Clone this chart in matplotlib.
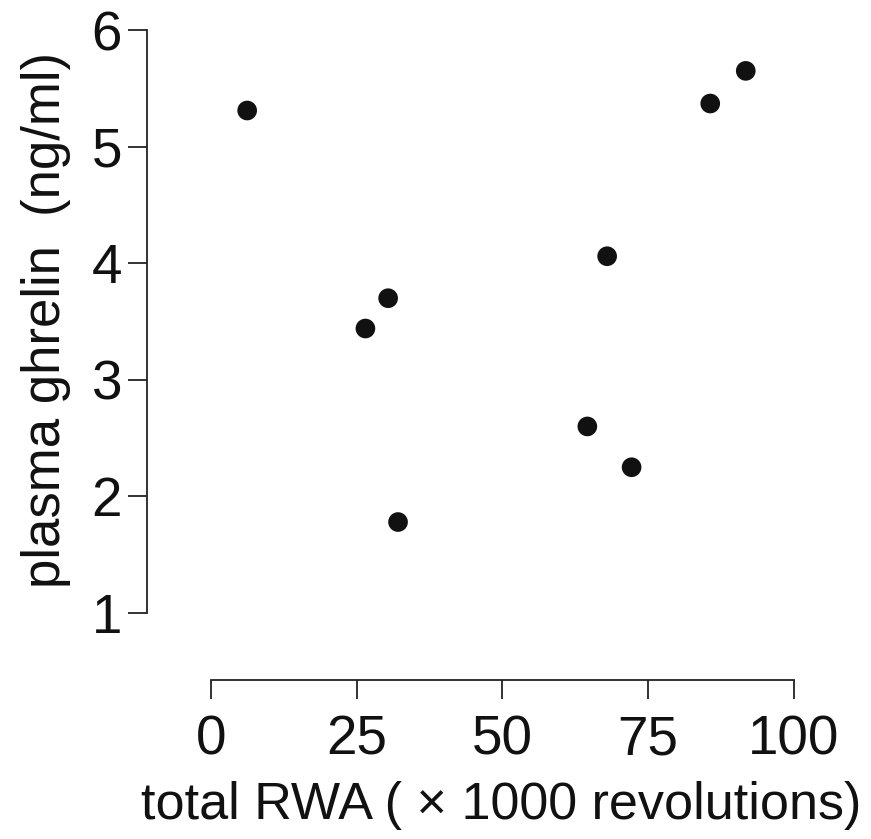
import matplotlib
matplotlib.use("Agg")
import matplotlib.pyplot as plt

plt.rcParams['font.family'] = ['Liberation Sans', 'DejaVu Sans']

rwa = [6.2, 26.5, 30.4, 32.1, 64.6, 68.0, 72.2, 85.7, 91.8]
ghrelin = [5.31, 3.44, 3.70, 1.78, 2.60, 4.06, 2.25, 5.37, 5.65]
xticks = [0, 25, 50, 75, 100]
yticks = [1, 2, 3, 4, 5, 6]

W, H = 871, 839
fig = plt.figure(figsize=(W / 100, H / 100), dpi=100)
left_px, right_px, top_px, bottom_px = 147, 811, 19, 680
ax = fig.add_axes([left_px / W, 1 - bottom_px / H, (right_px - left_px) / W, (bottom_px - top_px) / H])

ax.scatter(rwa, ghrelin, s=200, color='#111111', edgecolors='none', zorder=3, clip_on=False)

ax.set_xlim(-11, 103)
ax.set_ylim(0.425, 6.095)
for s in ['top', 'right']:
    ax.spines[s].set_visible(False)
ax.spines['left'].set_bounds(1, 6)
ax.spines['bottom'].set_bounds(0, 100)
for s in ['left', 'bottom']:
    ax.spines[s].set_linewidth(1.3)
    ax.spines[s].set_color('#222222')

ax.set_xticks(xticks)
ax.set_xticklabels([str(t) for t in xticks])
ax.set_yticks(yticks)
ax.set_yticklabels([str(t) for t in yticks])
ax.tick_params(axis='both', direction='out', length=14, width=1.3, color='#222222',
               labelsize=39.5, labelcolor='#111111')
ax.tick_params(axis='x', pad=11)
ax.tick_params(axis='y', pad=4)

fig.text(501 / W, 1 - 805 / H, 'total RWA ( \u00d7 1000 revolutions)', ha='center', va='center',
         fontsize=37.5, color='#111111')
fig.text(46 / W, 1 - 320 / H, 'plasma ghrelin  (ng/ml)', ha='center', va='center', rotation=90,
         fontsize=38, color='#111111')

fig.savefig('out.png', dpi=100)
